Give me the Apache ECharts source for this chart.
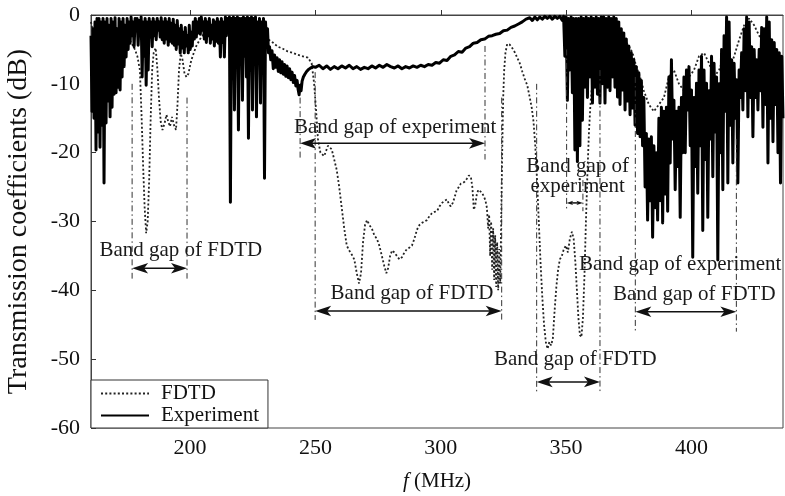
<!DOCTYPE html>
<html>
<head>
<meta charset="utf-8">
<script src="https://cdn.jsdelivr.net/npm/echarts@6/dist/echarts.min.js"></script>
<style>
html, body { margin: 0; padding: 0; background: #fff; }
#chart { width: 785px; height: 496px; }
</style>
</head>
<body>
<div id="chart"></div>
<script>
// Measured transmission, [f (MHz), dB], low band
var expLow = [
  [160.5,-3],[160.9,-14],[161.3,-2],[161.7,-15],[162.1,-1],[162.5,-19.6],[162.9,-0.5],[163.3,-17],
  [163.7,-0.5],[164.1,-19.2],[164.5,-1],[164.9,-16],[165.3,-0.5],[165.7,-24.4],[166.1,-1],[166.5,-15.7],
  [166.9,-0.5],[167.3,-12.5],[167.7,-1.5],[168.1,-14.8],[168.5,-0.5],[168.9,-13.4],[169.3,-1],[169.7,-11.5],
  [170.1,-0.4],[170.5,-11.3],[170.9,-2],[171.3,-10.5],[171.7,-0.5],[172.1,-10.9],[172.5,-1],[172.9,-9],
  [173.3,-0.5],[173.7,-7.5],[174.1,-1.5],[174.5,-6.1],[174.9,-0.5],[175.3,-5],[175.7,-1],[176.1,-4.1],
  [176.5,-0.3],[176.9,-3],[177.3,-1],[177.7,-4.6],[178.1,-0.5],[178.5,-2.2],
  [178.9,-0.5],[179.3,-4.4],[179.7,-0.8],[180.1,-3],[180.5,-0.3],[180.9,-9],[181.3,-1],[181.7,-6],
  [182.1,-0.5],[182.5,-10.2],[182.9,-1],[183.3,-8],[183.7,-0.5],[184.1,-3.2],[184.5,-1],[184.9,-4.6],
  [185.3,-0.5],[185.7,-3],[186.1,-1],[186.5,-3.6],[186.9,-0.5],[187.3,-2.2],[187.7,-1],[188.1,-3.2],
  [188.5,-0.4],[188.9,-3.6],[189.3,-1],[189.7,-4.1],[190.1,-0.5],[190.5,-3.5],[190.9,-1],[191.3,-4.4],
  [191.7,-0.5],[192.1,-3.8],[192.5,-1.2],[192.9,-4.1],[193.3,-0.6],[193.7,-4.4],[194.1,-1.5],[194.5,-5],
  [194.9,-0.8],[195.3,-4.2],[195.7,-2],[196.1,-5.5],[196.5,-1.5],[196.9,-4.8],[197.3,-2.5],[197.7,-5.5],
  [198.1,-1.8],[198.5,-4.5],[198.9,-3],[199.3,-5.5],[199.7,-1.5],[200.1,-5],[200.5,-2.5],[200.9,-4.5],
  [201.3,-1],[201.7,-3.5],[202.1,-0.5],[202.5,-3.2],[202.9,-1],[203.3,-2.6],[203.7,-0.5],[204.1,-2.8],
  [204.5,-0.3],[204.9,-2.2],
  [205.3,-1],[205.7,-3.5],[206.1,-0.5],[206.5,-4],[206.9,-1],[207.3,-3],[207.7,-0.5],[208.1,-4.1],
  [208.5,-1.5],[208.9,-3.5],[209.3,-0.7],[209.7,-4.5],[210.1,-1],[210.5,-3.8],[210.9,-0.5],[211.3,-4.1],
  [211.7,-1],[212.1,-6.1],[212.5,-0.5],[212.9,-4],[213.3,-1],[213.7,-6.1],[214.1,-0.3],[214.5,-3],
  [214.9,-0.5],[215.3,-2.5],[215.7,-0.3],[216.1,-27.2],[216.5,-0.5],[216.9,-3],[217.3,-0.3],[217.7,-13.8],
  [218.1,-0.5],[218.5,-4],[218.9,-0.3],[219.3,-16.7],[219.7,-0.5],[220.1,-5],[220.5,-0.5],[220.9,-12.4],
  [221.3,-0.3],[221.7,-6],[222.1,-0.5],[222.5,-9],[222.9,-0.3],[223.3,-17.9],[223.7,-0.5],[224.1,-8],
  [224.5,-0.3],[224.9,-13.8],[225.3,-0.5],[225.7,-7],[226.1,-0.3],[226.5,-14.8],[226.9,-1],[227.3,-6],
  [227.7,-0.5],[228.1,-12.8],[228.5,-1],[228.9,-5],[229.3,-0.5],[229.7,-23.7],[230.1,-1],[230.5,-4],
  [230.9,-2],[231.3,-5.5],[231.7,-4.6]
];

// Measured transmission, middle band (pass region)
var expMid = [
  [232.2,-6.5],[232.7,-5.2],[233.2,-7.8],[233.7,-5.8],[234.2,-7.6],[234.7,-6.2],[235.2,-8.2],[235.7,-6.5],
  [236.2,-8.4],[236.7,-6.8],[237.2,-8.6],[237.7,-7.2],[238.2,-8.9],[238.7,-7.4],[239.2,-9.1],[239.7,-7.8],
  [240.2,-9.4],[240.7,-8.3],[241.2,-9.8],[241.7,-8.8],[242.2,-10.3],[242.7,-9.5],[243.1,-10.8],[243.5,-11.6],
  [243.9,-10.2],[244.3,-11],[244.7,-9.6],[245.2,-9],[245.8,-8.6],[246.5,-8.2],[247.3,-7.9],[248.1,-7.7],
  [249,-7.5],[250,-7.6],[251.5,-7.3],[253,-7.8],[254.5,-7.4],[256,-7.9],[257.5,-7.5],[259,-7.8],
  [260.5,-7.4],[262,-7.7],[263.5,-7.3],[265,-7.8],[266.5,-7.5],[268,-7.9],[269.5,-7.6],[271,-7.8],
  [272.5,-7.4],[274,-7.7],[275.5,-7.3],[277,-7.6],[278.5,-7.2],[280,-7.5],[281.5,-7.7],[283,-7.4],
  [284.5,-7.8],[286,-7.5],[287.5,-7.7],[289,-7.4],[290.5,-7.6],[292,-7.3],[293.5,-7.5],[295,-7.2],
  [296.5,-7.3],[298,-6.9],[299.5,-7.0],[301,-6.5],[302.5,-6.6],[304,-6.0],[305.5,-5.8],[307,-5.3],
  [308.5,-5.4],[310,-4.8],[311.5,-4.6],[313,-4.1],[314.5,-4.0],[316,-3.6],[317.5,-3.5],[319,-3.1],
  [320.5,-3.0],[322,-2.8],[323.5,-2.7],[325,-2.3],[326.5,-2.2],[328,-1.8],[329.5,-1.6],[331,-1.3],
  [332.5,-1.0],[334,-0.6],[335.5,-0.4]
];

// Measured transmission, high band
var expHigh = [
  [336.5,-0.8],[337.5,-0.3],[338.5,-0.7],[339.5,-0.3],[340.5,-0.6],[341.5,-0.2],[342.5,-0.5],[343.5,-0.2],
  [344.5,-0.6],[345.5,-0.2],[346.5,-0.5],[347.5,-0.2],[348.5,-0.8],[349,-0.2],[349.5,-6],[350,-0.3],
  [350.5,-12.4],[351,-0.5],[351.5,-8],[352,-0.3],[352.5,-11.3],[353,-0.5],[353.5,-19.6],[354,-0.5],
  [354.5,-21.3],[355,-0.5],[355.5,-19],[356,-0.3],[356.5,-15.3],[357,-0.5],[357.5,-10.5],[358,-0.3],
  [358.5,-12],[359,-0.5],[359.5,-9],[360,-0.3],[360.5,-12.8],[361,-0.5],[361.5,-10.5],[362,-0.3],
  [362.5,-11.5],[363,-0.5],[363.5,-12.8],[364,-0.3],[364.5,-10],[365,-0.3],[365.5,-12.8],[366,-0.5],
  [366.5,-10.5],[367,-0.3],[367.5,-11],[368,-0.5],[368.5,-9],[369,-0.3],[369.5,-10.5],[370,-0.5],
  [370.5,-11.9],[371,-1],[371.5,-13],[372,-2],[372.5,-10.9],[373,-2.6],[373.5,-13.8],[374,-3.5],
  [374.5,-12.5],[375,-4.5],[375.5,-14.5],[376,-5.5],[376.5,-13.5],[377,-6.5],[377.5,-16],[378,-7.5],
  [378.5,-17.2],[379,-8.4],[379.5,-17.7],[380,-9.5],[380.5,-19],[381,-12],[381.5,-25],[382,-17.2],
  [382.5,-29.8],[383,-18],[383.5,-27],[384,-17.7],[384.5,-32.3],[385,-19],[385.5,-28],[386,-20],
  [386.5,-29.8],[387,-15],[387.5,-27],[388,-13.4],[388.5,-30.2],[389,-14],[389.5,-26],[390,-13.4],
  [390.5,-28.5],[391,-9],[391.5,-21.5],[392,-6.5],[392.5,-18],[393,-12.4],[393.5,-25.4],[394,-14],
  [394.5,-22],[395,-13.4],[395.5,-29.4],[396,-12],[396.5,-20],[397,-9],[397.5,-20],[398,-8],
  [398.5,-13.8],[399,-7.5],[399.5,-19],[400,-10.9],[400.5,-35.2],[401,-12],[401.5,-22],[402,-9.9],
  [402.5,-25.9],[403,-8],[403.5,-19],[404,-6],[404.5,-31.3],[405,-8],[405.5,-21],[406,-9.9],
  [406.5,-29.4],[407,-11],[407.5,-18],[408,-6],[408.5,-23.5],[409,-7],[409.5,-17],[410,-9],
  [410.5,-35.6],[411,-10],[411.5,-20],[412,-5],[412.5,-25.4],[413,-3],[413.5,-14],[414,-0.3],
  [414.5,-24.4],[415,-1],[415.5,-16],[416,-6.5],[416.5,-21.5],[417,-7],[417.5,-15],[418,-9.4],
  [418.5,-24.4],[419,-8],[419.5,-12],[420,-5.5],[420.5,-13.8],[421,-2],[421.5,-11],[422,-0.3],
  [422.5,-14.8],[423,-1],[423.5,-12],[424,-4.6],[424.5,-17.7],[425,-5],[425.5,-12],[426,-6.5],
  [426.5,-13.8],[427,-5],[427.5,-11],[428,-1.8],[428.5,-16.3],[429,-2],[429.5,-13],[430,-0.3],
  [430.5,-21.5],[431,-1],[431.5,-15],[432,-3.6],[432.5,-18.4],[433,-4],[433.5,-13],[434,-5],
  [434.5,-20],[435,-5.5],[435.5,-24.4],[436,-6],[436.5,-15]
];

// FDTD simulation, [f (MHz), dB]
var fdtdPts = [
  [160.5,-1],[162,-4],[163.5,-2],[165,-1],[167,-2.5],[169,-1.5],[171,-2],[173,-3],[175,-3],[176.5,-4],
  [178,-5],[179,-6],[180,-8],[180.7,-15],[181.3,-22],[181.9,-28],[182.5,-31.7],[183.1,-30],[183.7,-24],
  [184.3,-15],[184.9,-8],[185.5,-5.5],[186.3,-4.8],[187,-8],[187.6,-12],[188.3,-15.5],[189,-16.7],
  [189.8,-15.8],[190.6,-14.5],[191.3,-15.5],[192,-16.2],[192.8,-14.8],[193.6,-16],[194.4,-16.7],[195,-13],
  [195.6,-8],[196.3,-5.6],[197,-6.5],[197.8,-8.5],[198.6,-9],[199.4,-8.5],[200.2,-7],[201,-6],[202.5,-4.5],
  [204,-3.5],[206,-2.5],[208,-2],[210,-1.5],[212,-2],[214,-1.5],[216,-2.5],[218,-1.5],[220,-1],[222,-2],
  [224,-1.5],[226,-1],[228,-1.2],[229.5,-2.5],[231,-3.5],[233,-4],[235,-4.6],[237,-4.9],[239,-5.3],
  [241,-5.5],[243,-5.8],[245,-6],[247,-6.2],[248.5,-7],[249.5,-10],[250.3,-14],[251,-18],[252,-20],
  [253.5,-20.5],[255,-19],[256.5,-19.5],[257.5,-21],[258.5,-22.5],[259.5,-25],[260.5,-28],[261.5,-31],
  [262.5,-33.5],[263.5,-34.2],[264.5,-34.8],[265.5,-35.5],[266.5,-37.5],[267.4,-39],[268.2,-37.5],
  [269,-33],[269.8,-30.5],[270.6,-29.8],[271.5,-30.5],[272.5,-31],[273.5,-32],[274.5,-32.5],[275.5,-33.5],
  [276.5,-35],[277.5,-36.5],[278.3,-37.5],[279,-36.8],[279.8,-35],[280.6,-34.2],[281.5,-34.5],[282.5,-35],
  [283.5,-35.5],[284.5,-35.2],[285.5,-34.5],[286.5,-34],[287.5,-33.8],[288.5,-33.5],[289.5,-32.5],
  [290.5,-31.2],[291.5,-30.5],[292.5,-30.2],[293.5,-30],[294.5,-29.8],[295.5,-29.2],[296.5,-28.8],
  [297.5,-28.6],[298.5,-28.5],[299.5,-27.8],[300.5,-27.3],[301.5,-27],[302.5,-26.8],[303.3,-27.5],
  [304,-27.8],[304.8,-27.3],[305.5,-26.5],[306.3,-25.5],[307.2,-25],[308,-24.5],[308.8,-24.4],[309.6,-24.2],
  [310.4,-23.8],[311.2,-23.3],[312,-23.5],[312.6,-25],[313.2,-28.3],[313.8,-27.5],[314.4,-26],[315,-25.4],
  [315.7,-25.4],[316.4,-25.8],[317.1,-26.3],[317.8,-26.9],[318.4,-28],[318.9,-31],[319.3,-29],[319.7,-35],
  [320.1,-30],[320.5,-37],[320.9,-31],[321.3,-38.5],[321.7,-32],[322.1,-39.5],[322.5,-33],[322.9,-40],
  [323.3,-34],[323.7,-39],[324.1,-30],[324.5,-20],[324.9,-12],[325.3,-8],[325.8,-5.5],[326.5,-4.2],
  [327.5,-4.3],[328.5,-4.8],[329.5,-5.4],[330.5,-6.2],[331.5,-7],[332.5,-8.2],[333.5,-9.3],[334.5,-10.2],
  [335.5,-12],[336.3,-13.5],[337,-15.5],[337.7,-19],[338.4,-24],[339.1,-30],[339.8,-36],[340.5,-41],
  [341.2,-45],[341.9,-47.5],[342.6,-48.5],[343.3,-47.5],[344,-48],[344.7,-47],[345.4,-43],[346.1,-39.5],
  [346.8,-37],[347.5,-35.5],[348.3,-35],[349.1,-34],[349.9,-33.5],[350.7,-34.5],[351.5,-32.5],[352.3,-31.5],
  [353,-32.5],[353.7,-36],[354.3,-40],[354.9,-44],[355.5,-46.5],[356.1,-46.8],[356.7,-44],[357.3,-38],
  [357.9,-30],[358.5,-23],[359.1,-17],[359.7,-13],[360.4,-10],[361.2,-7],[362,-5],[363,-3.5],[364.5,-2.5],
  [366,-1.5],[367.5,-2],[369,-2.5],[370.5,-3],[372,-3.2],[373.5,-3.8],[375,-4.5],[376.5,-5.5],[378,-7.5],
  [379.5,-9],[381,-11],[383,-13],[385,-14],[387,-13],[389,-12],[391,-9],[393,-8],[395,-10],[397,-11],
  [399,-9],[401,-8],[403,-6],[405,-5.5],[407,-7],[409,-9],[411,-8],[413,-6],[415,-8],[417,-6],[419,-3.6],
  [421,-1.5],[423,-0.5],[425,-1.5],[427,-3],[429,-4],[431,-4.2],[433,-5],[435,-6],[436.5,-7]
];

// Band-gap boundaries: [f, top dB, bottom dB]
var gapLines = [
  [176.9,-10,-38.3],[198.8,-12,-38.3],
  [243.9,-12,-21],[317.65,-4.5,-21],
  [249.9,-8.3,-44.3],[324.3,-12,-44.3],
  [338.25,-10,-54.7],[363.5,-8,-54.7],
  [350.2,-5,-28.5],[356.7,-24,-28.5],
  [377.6,-9,-46],[417.9,-18,-46]
];

// Band-gap spans: [f start, f end, dB level]
var gapArrows = [
  [176.9,198.8,-36.8],
  [243.9,317.65,-18.65],
  [249.9,324.3,-43],
  [350.2,356.7,-27.3],
  [338.25,363.5,-53.3],
  [377.6,417.9,-43.1]
];

// Band-gap captions: [f centre, dB centre]
var gapLabelPos = [
  [196.3,-34.2],[281.8,-16.4],[288.5,-40.5],[354.6,-22.0],[354.6,-24.9],
  [353.7,-50.1],[395.5,-36.3],[401.1,-40.6]
];
var gapLabelText = [
  'Band gap of FDTD','Band gap of experiment','Band gap of FDTD','Band gap of','experiment',
  'Band gap of FDTD','Band gap of experiment','Band gap of FDTD'
];

var yTicks = [0,-10,-20,-30,-40,-50,-60];

var SERIF = '"Liberation Serif", "DejaVu Serif", serif';
var INK = '#111';

function renderGapLine(params, api) {
  var a = api.coord([api.value(0), api.value(1)]);
  var b = api.coord([api.value(0), api.value(2)]);
  return {
    type: 'line',
    shape: { x1: a[0], y1: a[1], x2: b[0], y2: b[1] },
    style: { stroke: '#333', lineWidth: 1, lineDash: [6, 3, 1.5, 3] }
  };
}

function renderArrow(params, api) {
  var a = api.coord([api.value(0), api.value(2)]);
  var b = api.coord([api.value(1), api.value(2)]);
  var len = Math.abs(b[0] - a[0]);
  var head = Math.min(16, len * 0.4);
  var half = head * 0.33;
  var y = a[1];
  return {
    type: 'group',
    children: [
      { type: 'line', shape: { x1: a[0] + head * 0.6, y1: y, x2: b[0] - head * 0.6, y2: y },
        style: { stroke: INK, lineWidth: 1.5 } },
      { type: 'polygon', shape: { points: [[a[0], y], [a[0] + head, y - half], [a[0] + head * 0.75, y], [a[0] + head, y + half]] },
        style: { fill: INK } },
      { type: 'polygon', shape: { points: [[b[0], y], [b[0] - head, y - half], [b[0] - head * 0.75, y], [b[0] - head, y + half]] },
        style: { fill: INK } }
    ]
  };
}

function renderLabel(params, api) {
  var p = api.coord([api.value(0), api.value(1)]);
  return {
    type: 'text',
    style: {
      text: gapLabelText[params.dataIndex],
      x: p[0], y: p[1],
      align: 'center', verticalAlign: 'middle',
      font: '21px ' + SERIF,
      fill: '#1a1a1a'
    }
  };
}

var chart = echarts.init(document.getElementById('chart'), null, { renderer: 'canvas' });

chart.setOption({
  animation: false,
  backgroundColor: '#fff',
  grid: {
    left: 91, right: 2, top: 15, bottom: 68,
    containLabel: false,
    outerBoundsMode: 'none',
    show: true, borderColor: '#444', borderWidth: 1, backgroundColor: 'transparent'
  },
  legend: {
    data: ['FDTD', 'Experiment'],
    orient: 'vertical',
    left: 91, top: 380,
    itemWidth: 48, itemHeight: 12, itemGap: 1,
    padding: [3, 9, 2, 9],
    backgroundColor: '#fff', borderColor: '#333', borderWidth: 1,
    itemStyle: { opacity: 0 },
    textStyle: { fontFamily: SERIF, fontSize: 21, color: INK, padding: [0, 0, 0, 7] }
  },
  xAxis: {
    type: 'value',
    min: 160.5, max: 436.5,
    name: '{i|f} (MHz)',
    nameLocation: 'middle',
    nameGap: 43,
    nameTextStyle: {
      fontFamily: SERIF, fontSize: 21, color: INK,
      rich: { i: { fontFamily: SERIF, fontSize: 21, fontStyle: 'italic', color: INK } }
    },
    axisLine: { show: true, lineStyle: { color: '#444', width: 1 } },
    axisTick: { show: true, inside: true, length: 5, lineStyle: { color: '#333' } },
    axisLabel: { showMinLabel: false, showMaxLabel: false, margin: 9, fontFamily: SERIF, fontSize: 22, color: INK },
    splitLine: { show: false }
  },
  yAxis: {
    type: 'value',
    min: yTicks[yTicks.length - 1], max: yTicks[0], interval: 10,
    name: 'Transmission coefficients (dB)',
    nameLocation: 'middle',
    nameGap: 58,
    nameTextStyle: { fontFamily: SERIF, fontSize: 28, color: INK },
    axisLine: { show: true, lineStyle: { color: '#444', width: 1 } },
    axisTick: { show: true, inside: true, length: 5, lineStyle: { color: '#333' } },
    axisLabel: { margin: 11, fontFamily: SERIF, fontSize: 22, color: INK },
    splitLine: { show: false }
  },
  series: [
    {
      name: 'FDTD',
      type: 'line',
      data: fdtdPts,
      symbol: 'none',
      silent: true,
      lineStyle: { color: '#222', width: 1.8, type: [2, 2.2], cap: 'butt' },
      itemStyle: { color: '#222' },
      z: 2
    },
    {
      name: 'Experiment',
      type: 'line',
      data: expLow.concat(expMid, expHigh),
      symbol: 'none',
      silent: true,
      lineStyle: { color: '#000', width: 3, join: 'round' },
      itemStyle: { color: '#000' },
      z: 3
    },
    {
      type: 'custom',
      data: gapLines,
      encode: { x: 0, y: [1, 2] },
      renderItem: renderGapLine,
      silent: true,
      z: 4
    },
    {
      type: 'custom',
      data: gapArrows,
      encode: { x: [0, 1], y: 2 },
      renderItem: renderArrow,
      silent: true,
      z: 5
    },
    {
      type: 'custom',
      data: gapLabelPos,
      encode: { x: 0, y: 1 },
      renderItem: renderLabel,
      silent: true,
      z: 6
    }
  ]
});
</script>
</body>
</html>
